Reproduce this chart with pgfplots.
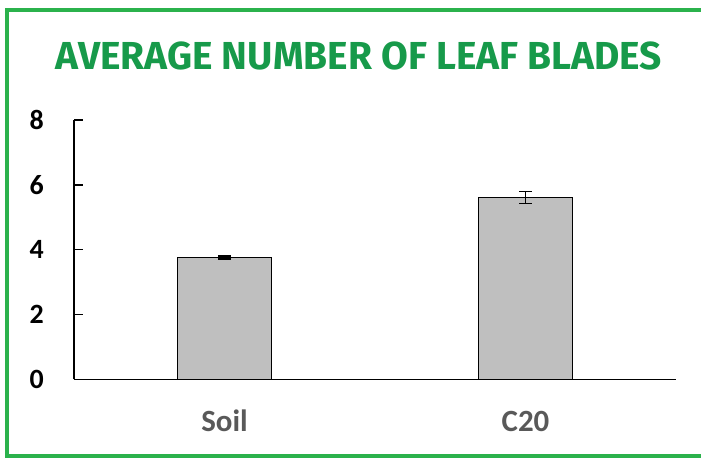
\documentclass[border=0pt]{standalone}
\usepackage{pgfplots}
\pgfplotsset{compat=1.18}
\usepackage{fontspec}
\setmainfont{Carlito}
\newfontfamily\titlefont{Fira Sans}
\definecolor{bordergreen}{HTML}{2BB24C}
\definecolor{titlegreen}{HTML}{179A4A}
\definecolor{barfill}{HTML}{BFBFBF}
\definecolor{labelgray}{HTML}{595959}
\pgfplotstableread{
x y e
0 3.76 0.05
1 5.61 0.19
}\leafdata
\begin{document}
\begin{tikzpicture}[x=1bp,y=1bp]
\path[use as bounding box] (0,0) rectangle (701,458);
\draw[bordergreen, line width=4.5bp] (701,448) -- (7,448) -- (7,1.5) -- (701,1.5);
\node[text=titlegreen, inner sep=0pt, anchor=base] at (359,388.7) {\resizebox{606bp}{27.7bp}{\titlefont\bfseries AVERAGE NUMBER OF LEAF BLADES}};
\begin{axis}[
  at={(74bp,78.5bp)}, anchor=south west, scale only axis,
  width=602bp, height=259.5bp,
  xmin=-0.5, xmax=1.5, ymin=0, ymax=8,
  ybar, bar width=94.4bp,
  axis x line=bottom, axis y line=left,
  axis line style={black, line width=1.3bp, -},
  xtick={0,1}, xticklabels={Soil,C20},
  major x tick style={draw=none},
  ytick={0,2,4,6,8}, yticklabels={\textbf{0},\textbf{2},\textbf{4},\textbf{6},\textbf{8}},
  tick align=inside, major tick length=9bp,
  major y tick style={black, line width=1.3bp},
  yticklabel style={font=\fontsize{28}{28}\selectfont\bfseries, text=black, inner sep=0pt, anchor=east, xshift=-30bp},
  xticklabel style={font=\fontsize{31}{31}\selectfont\bfseries, text=labelgray, inner sep=0pt, anchor=base, yshift=-52bp},
]
\addplot[fill=barfill, draw=black, line width=1.3bp,
  error bars/.cd, y dir=both, y explicit,
  error bar style={line width=1.5bp, black},
  error mark options={rotate=90, mark size=6.3bp, line width=1.5bp, black}]
  table[x=x, y=y, y error=e] {\leafdata};
\end{axis}
\end{tikzpicture}
\end{document}
